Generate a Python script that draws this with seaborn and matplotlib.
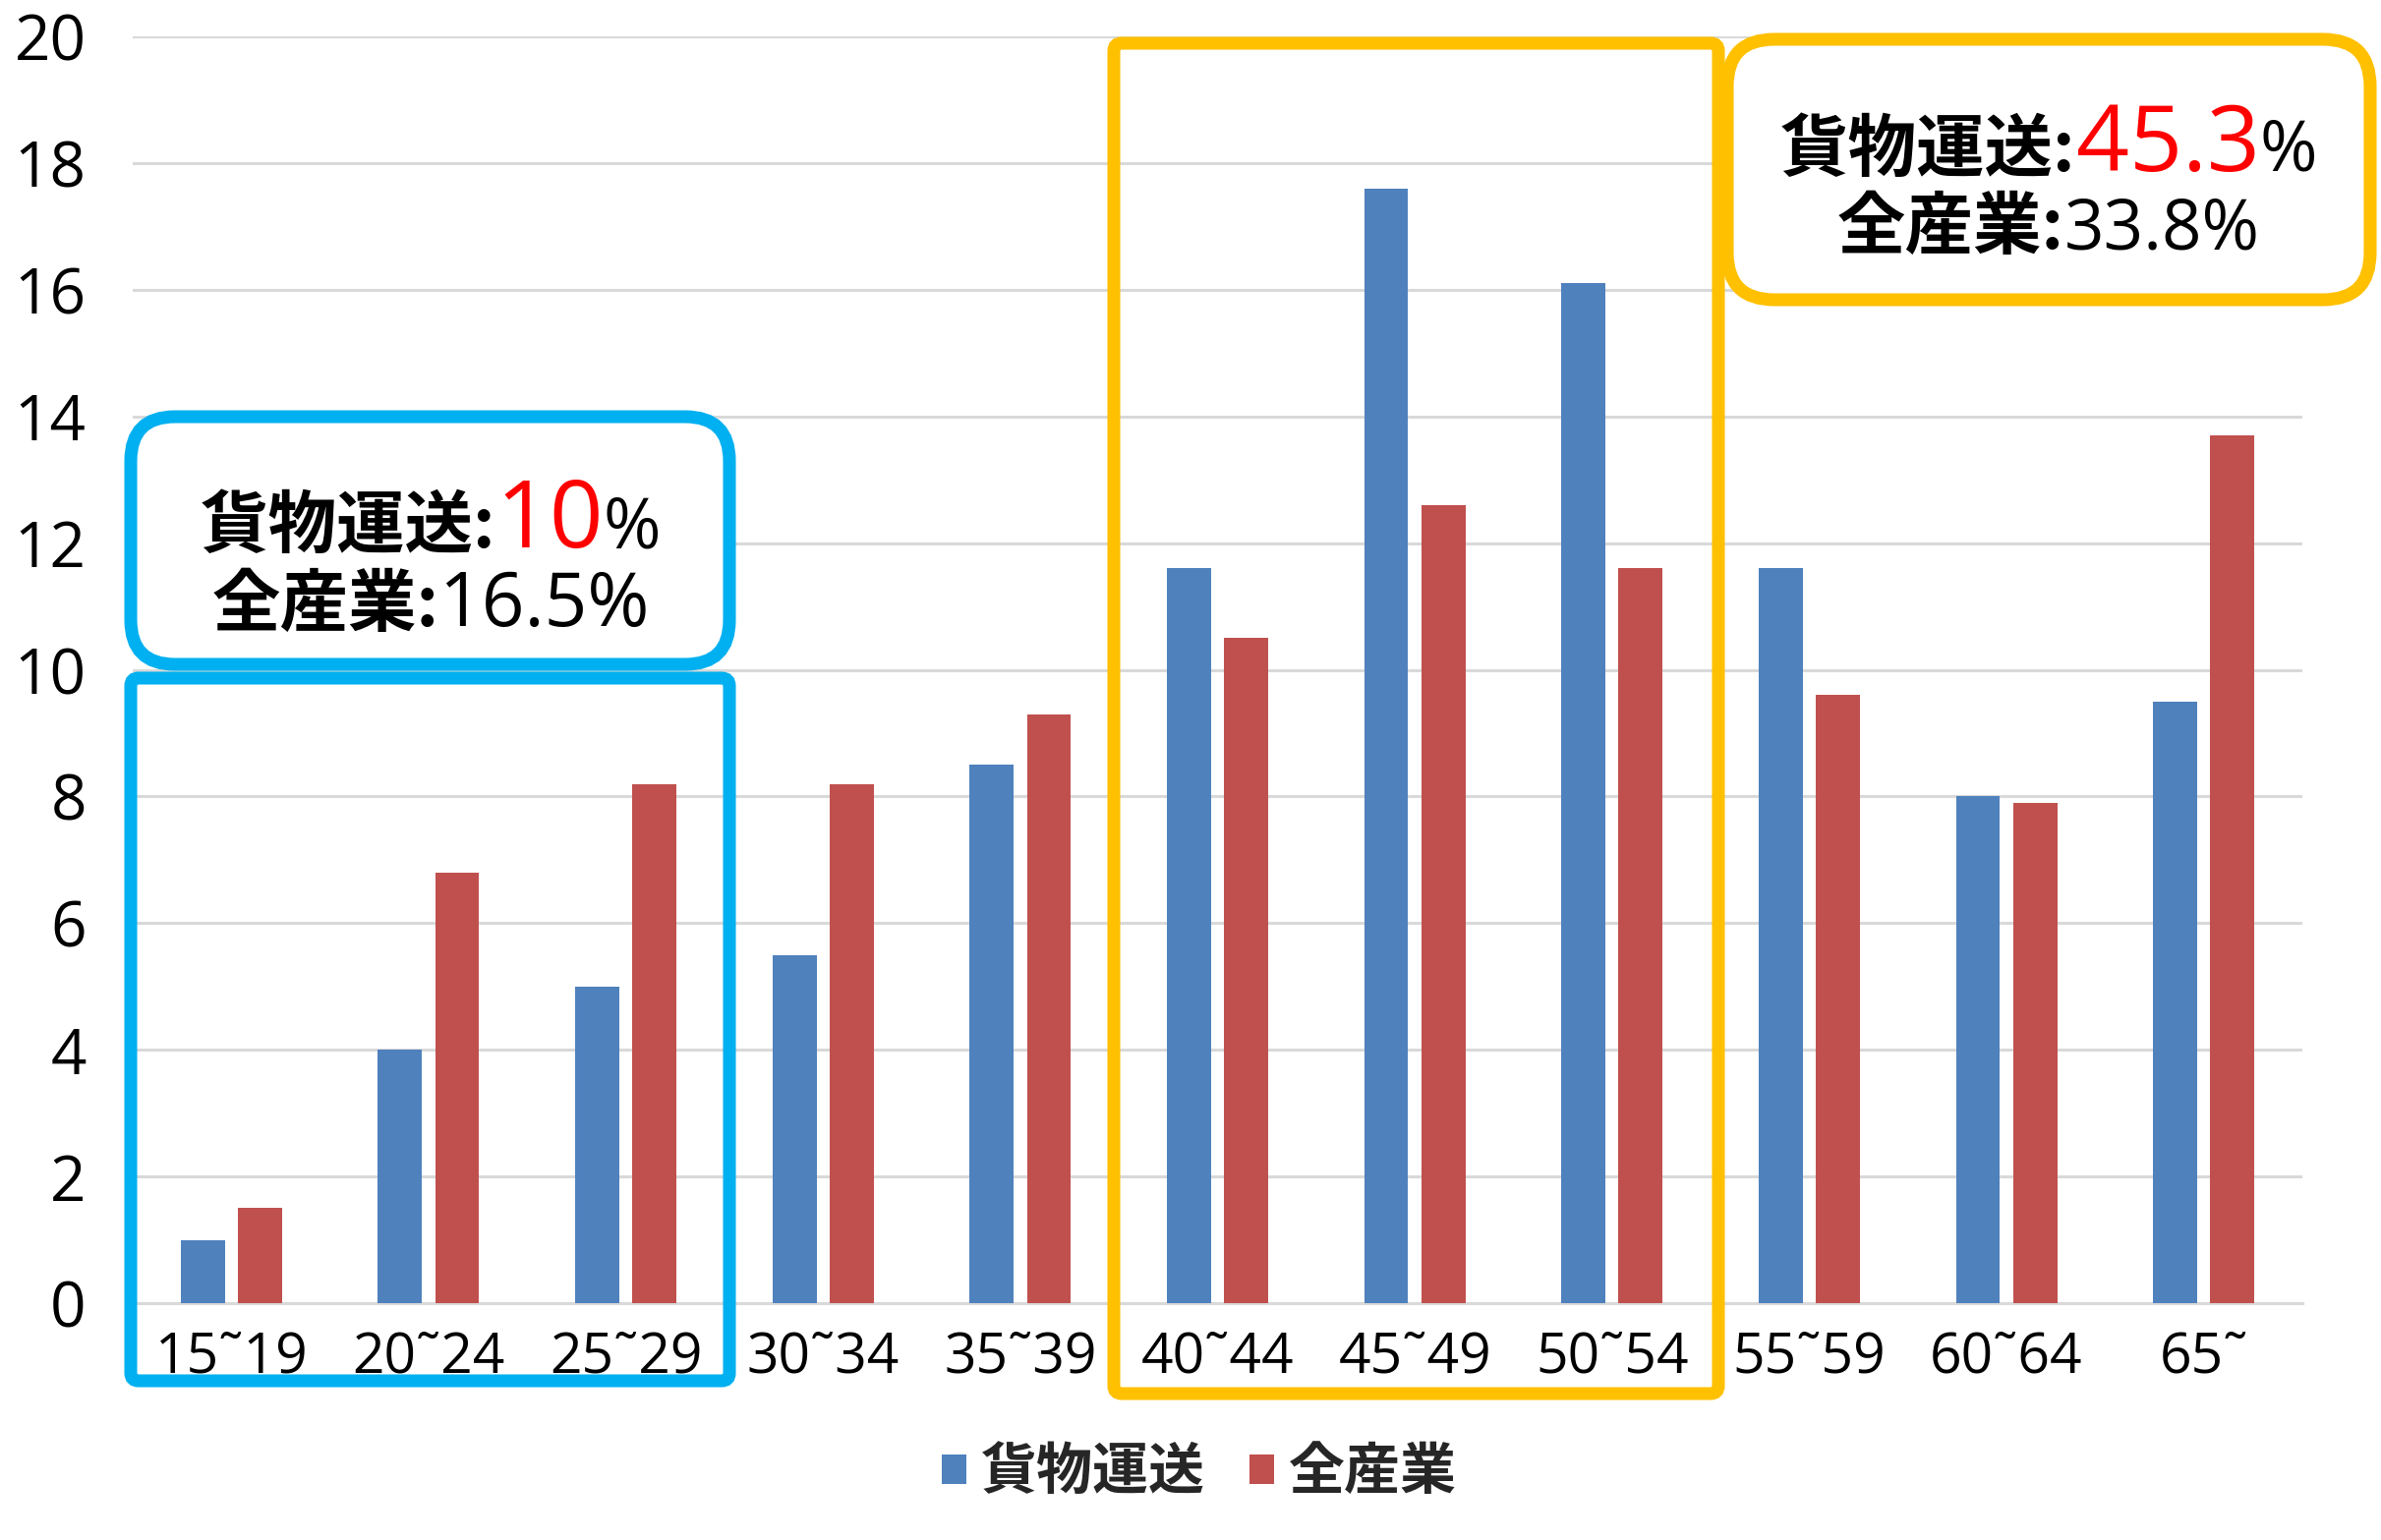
import pandas as pd
import matplotlib.pyplot as plt
import seaborn as sns
from matplotlib.patches import FancyBboxPatch

# age groups and share of workers (%) for each series
age_groups = ["15˜19", "20˜24", "25˜29", "30˜34", "35˜39", "40˜44",
              "45˜49", "50˜54", "55˜59", "60˜64", "65˜"]
freight = [1.0, 4.0, 5.0, 5.5, 8.5, 11.6, 17.6, 16.1, 11.6, 8.0, 9.5]
all_industry = [1.5, 6.8, 8.2, 8.2, 9.3, 10.5, 12.6, 11.6, 9.6, 7.9, 13.7]
series_names = ["貨物運送", "全産業"]
series_colors = ["#4F81BD", "#C0504D"]
y_ticks = [0, 2, 4, 6, 8, 10, 12, 14, 16, 18, 20]

# totals written in the call-out boxes
young_freight, young_all = "10", "16.5"
middle_freight, middle_all = "45.3", "33.8"

W, H = 2422, 1567
BLUE_BOX = "#00B0F0"
ORANGE_BOX = "#FFC000"
CJK = ["Noto Sans CJK JP", "DejaVu Sans"]
NUM = ["Open Sans", "Noto Sans CJK JP", "DejaVu Sans"]

df = pd.DataFrame({
    "age": age_groups * 2,
    "value": freight + all_industry,
    "series": [series_names[0]] * len(age_groups) + [series_names[1]] * len(age_groups),
})

sns.set_theme(style="white")
plt.rcParams["font.family"] = CJK

fig = plt.figure(figsize=(W / 100, H / 100), dpi=100)
ax = fig.add_axes([135 / W, 1 - 1326 / H, (2342 - 135) / W, (1326 - 37) / H])

sns.barplot(data=df, x="age", y="value", hue="series", palette=series_colors,
            width=0.58, gap=0.23, saturation=1, linewidth=0, ax=ax, zorder=3)

ax.set_ylim(0, 20)
ax.set_yticks(y_ticks)
ax.set_xlim(-0.5, len(age_groups) - 0.5)
ax.grid(axis="y", color="#D9D9D9", linewidth=2.2, zorder=0)
ax.set_axisbelow(True)
for side in ["left", "right", "top"]:
    ax.spines[side].set_visible(False)
ax.spines["bottom"].set_color("#D9D9D9")
ax.spines["bottom"].set_linewidth(2.2)
ax.set_xlabel("")
ax.set_ylabel("")
ax.tick_params(axis="y", length=0, pad=34, labelsize=46, labelcolor="black")
ax.tick_params(axis="x", length=0, pad=20, labelsize=41, labelcolor="black")
for lab in ax.get_xticklabels() + ax.get_yticklabels():
    lab.set_family(NUM)

handles, labels = ax.get_legend_handles_labels()
ax.legend(handles, labels, loc="center", bbox_to_anchor=(1220 / W, 1 - 1498 / H),
          bbox_transform=fig.transFigure, ncol=2, frameon=False,
          prop={"family": CJK, "size": 41, "weight": "bold"},
          handlelength=0.44, handleheight=0.44, handletextpad=0.25,
          columnspacing=0.8)

# overlay in pixel units for the call-out boxes
ov = fig.add_axes([0, 0, 1, 1], zorder=5)
ov.set_xlim(0, W)
ov.set_ylim(H, 0)
ov.axis("off")
ov.patch.set_visible(False)


def box(x0, y0, x1, y1, color, radius, fill):
    p = FancyBboxPatch((x0, y0), x1 - x0, y1 - y0,
                       boxstyle=f"round,pad=0,rounding_size={radius}",
                       facecolor="white" if fill else "none",
                       edgecolor=color, linewidth=9.4)
    ov.add_patch(p)


renderer = fig.canvas.get_renderer()


def text_line(pieces, cx, baseline):
    texts = []
    for s, size, color, fam, wt in pieces:
        texts.append(ov.text(0, baseline, s, fontsize=size, color=color,
                             family=fam, weight=wt, va="baseline", ha="left"))
    widths = [t.get_window_extent(renderer).width for t in texts]
    x = cx - sum(widths) / 2
    for t, w in zip(texts, widths):
        t.set_x(x)
        x += w


box(133, 690, 742, 1405, BLUE_BOX, 8, False)
box(133, 424, 742, 676, BLUE_BOX, 45, True)
box(1133, 44, 1748, 1418, ORANGE_BOX, 8, False)
box(1757, 40, 2411, 305, ORANGE_BOX, 48, True)

text_line([(series_names[0] + ":", 50, "black", CJK, "bold"),
           (young_freight, 69, "red", NUM, "normal"),
           ("%", 51, "black", NUM, "normal")], 438, 557)
text_line([(series_names[1] + ":", 50, "black", CJK, "bold"),
           (young_all + "%", 55, "black", NUM, "normal")], 438, 637)
text_line([(series_names[0] + ":", 50, "black", CJK, "bold"),
           (middle_freight, 68, "red", NUM, "normal"),
           ("%", 51, "black", NUM, "normal")], 2084, 174)
text_line([(series_names[1] + ":", 50, "black", CJK, "bold"),
           (middle_all + "%", 51, "black", NUM, "normal")], 2084, 253)

fig.savefig("out.png", dpi=100)
